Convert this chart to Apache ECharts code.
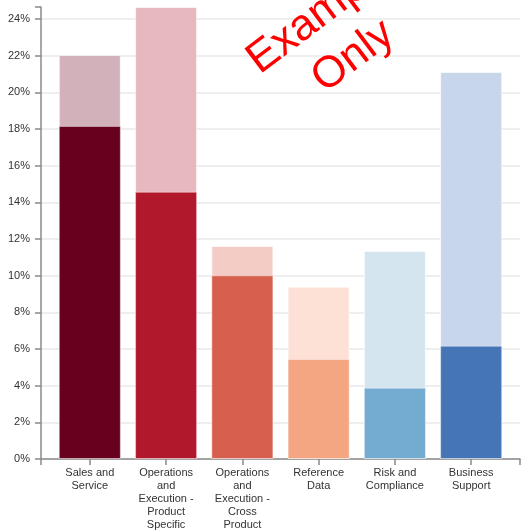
<!DOCTYPE html>
<html>
<head>
<meta charset="utf-8">
<script src="https://cdn.jsdelivr.net/npm/echarts@6/dist/echarts.min.js"></script>
<style>
html,body{margin:0;padding:0;background:#fff;}
#chart{width:521px;height:531px;}
</style>
</head>
<body>
<div id="chart"></div>
<script>
const categories = ['Sales and\nService', 'Operations\nand\nExecution -\nProduct\nSpecific', 'Operations\nand\nExecution -\nCross\nProduct', 'Reference\nData', 'Risk and\nCompliance', 'Business\nSupport'];
const totalValues = [22.04, 24.66, 11.62, 9.40, 11.35, 21.11];
const subsetValues = [18.17, 14.58, 10.02, 5.46, 3.89, 6.18];
const darkColors = ['#67001f', '#b2182b', '#d6604d', '#f4a582', '#74abd1', '#4575b4'];
const lightColors = ['#d3b1ba', '#e8b8bf', '#f2ccc5', '#fde0d6', '#d5e5f0', '#c7d6ea'];
const yTickLabels = [0, 2, 4, 6, 8, 10, 12, 14, 16, 18, 20, 22, 24];

const chart = echarts.init(document.getElementById('chart'), null, {renderer: 'canvas'});
const font = 'Liberation Sans';
const catIdx = categories.map((c, i) => i);
const yMax = Math.max.apply(null, totalValues);

chart.setOption({
  animation: false,
  backgroundColor: '#fff',
  grid: {left: 41, right: 1, top: 7, bottom: 72, containLabel: false},
  xAxis: {
    type: 'value', min: -0.64, max: 5.64,
    axisLine: {show: true, onZero: false, lineStyle: {color: '#8a8a8a', width: 1.5}},
    axisTick: {show: true, length: 6, lineStyle: {color: '#8a8a8a', width: 1.5},
      customValues: [-0.64].concat(catIdx, [5.64])},
    axisLabel: {customValues: catIdx, formatter: v => categories[Math.round(v)],
      color: '#333', fontSize: 11, fontFamily: font, lineHeight: 13, margin: 7},
    splitLine: {show: false}
  },
  yAxis: {
    type: 'value', min: 0, max: yMax, interval: 2,
    axisLine: {show: true, onZero: false, lineStyle: {color: '#8a8a8a', width: 1.5}},
    axisTick: {show: true, length: 6, lineStyle: {color: '#8a8a8a', width: 1.5}},
    axisLabel: {customValues: yTickLabels, formatter: v => v + '%', color: '#333', fontSize: 11, fontFamily: font, margin: 11},
    splitLine: {show: true, showMaxLine: false, lineStyle: {color: '#e8e8e8', width: 1.5}}
  },
  series: [
    {
      type: 'bar', barWidth: 62, barGap: '-100%', z: 2,
      data: totalValues.map((v, i) => ({value: [i, v], itemStyle: {color: lightColors[i], borderColor: 'rgba(255,255,255,0.6)', borderWidth: 1}}))
    },
    {
      type: 'bar', barWidth: 62, barGap: '-100%', z: 3,
      data: subsetValues.map((v, i) => ({value: [i, v], itemStyle: {color: darkColors[i], borderColor: 'rgba(255,255,255,0.4)', borderWidth: 1}}))
    }
  ],
  graphic: [{
    type: 'text', x: 337, y: 35, rotation: 37 * Math.PI / 180, z: 100,
    style: {text: 'Example\nOnly', fill: '#ff0000', font: '44px "Liberation Sans"', align: 'center', verticalAlign: 'middle', lineHeight: 54}
  }]
});
</script>
</body>
</html>
